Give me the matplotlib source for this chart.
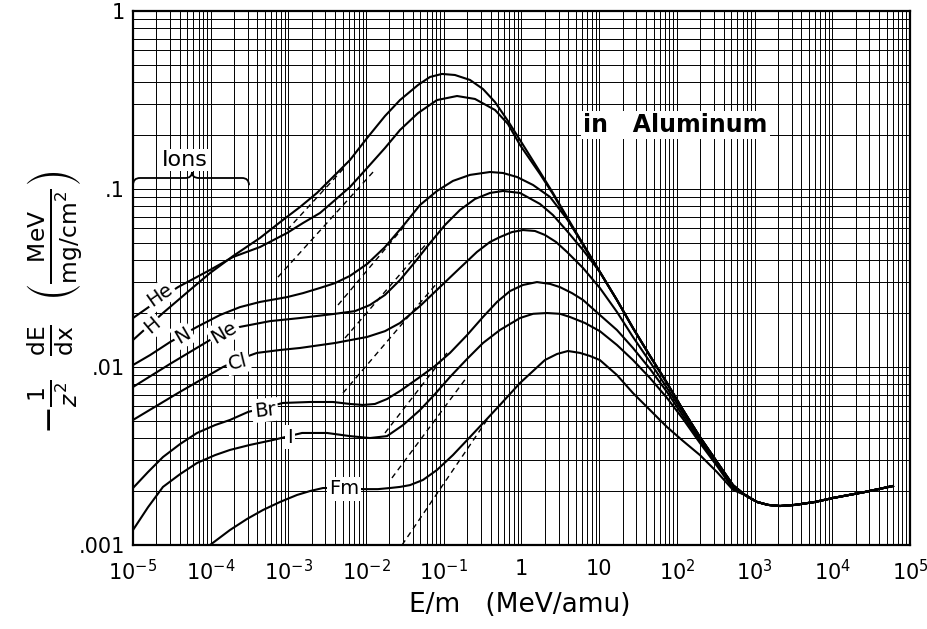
import numpy as np
import matplotlib
matplotlib.use('Agg')
import matplotlib.pyplot as plt
from matplotlib.path import Path
from matplotlib.patches import PathPatch
from matplotlib.ticker import LogLocator, NullFormatter

# curves: E/m (MeV/amu) vs -1/z^2 dE/dx (MeV/(mg/cm^2))
h_e = [1e-5, 2.43e-5, 5.42e-5, 9.8e-5, 1.94e-4, 4.31e-4, 8.5e-4, 1.41e-3, 2.33e-3, 3.75e-3,
       6.2e-3, 1.03e-2, 1.75e-2, 2.73e-2, 4.66e-2, 6.64e-2, 9.48e-2, 0.139, 0.217, 0.3195,
       0.456, 0.670, 0.957, 1.73, 2.54, 3.85, 6.19]
h_s = [0.01418, 0.0201, 0.0271, 0.0337, 0.042, 0.0531, 0.067, 0.0792, 0.095, 0.1168,
       0.1455, 0.1934, 0.257, 0.316, 0.384, 0.426, 0.443, 0.437, 0.41, 0.3645,
       0.308, 0.241, 0.1884, 0.1246, 0.095, 0.0696, 0.0491]

he_e = [1e-5, 2.43e-5, 3.79e-5, 9.8e-5, 1.94e-4, 4.31e-4, 9.6e-4, 1.54e-3, 2.55e-3, 3.98e-3,
        6.2e-3, 1.03e-2, 1.75e-2, 2.73e-2, 4.66e-2, 8.17e-2, 0.148, 0.252, 0.456, 0.67,
        0.957, 1.73, 2.54, 3.85, 6.19]
he_s = [0.01884, 0.0247, 0.0281, 0.0351, 0.0415, 0.0472, 0.0566, 0.0644, 0.0733, 0.0867,
        0.1026, 0.1312, 0.170, 0.2145, 0.267, 0.316, 0.333, 0.3205, 0.278, 0.2318,
        0.1767, 0.1214, 0.0937, 0.0687, 0.0485]

n_e = [1e-5, 1.66e-5, 2.99e-5, 6.67e-5, 1.32e-4, 2.38e-4, 4.31e-4, 9.6e-4, 1.54e-3, 2.55e-3,
       3.98e-3, 6.2e-3, 1.03e-2, 1.75e-2, 2.99e-2, 4.94e-2, 8.17e-2, 0.131, 0.217, 0.393,
       0.578, 0.875, 1.41, 2.33, 3.85, 6.19]
n_s = [0.01026, 0.01167, 0.0138, 0.0168, 0.0196, 0.0217, 0.0232, 0.0247, 0.026, 0.0278,
       0.0296, 0.0325, 0.0379, 0.0472, 0.062, 0.0813, 0.0975, 0.111, 0.12, 0.1246,
       0.123, 0.1168, 0.1053, 0.0902, 0.0678, 0.0491]

ne_e = [1e-5, 2.99e-5, 9.8e-5, 2.38e-4, 5.79e-4, 1.41e-3, 3.98e-3, 7.19e-3, 1.12e-2, 1.75e-2,
        2.73e-2, 4.26e-2, 6.64e-2, 0.1036, 0.1614, 0.252, 0.393, 0.578, 0.957, 1.73,
        2.54, 3.85, 6.19]
ne_s = [0.00772, 0.0104, 0.01418, 0.0168, 0.0181, 0.01884, 0.0199, 0.0206, 0.0223, 0.0254,
        0.0308, 0.0389, 0.0497, 0.0628, 0.0762, 0.0879, 0.095, 0.0975, 0.095, 0.0824,
        0.0714, 0.0581, 0.0454]

# falling branch shared by H, He, N and Ne above 10 MeV/amu
hi_e = [10.2, 16.9, 27.2, 45.1, 74.6, 120, 198, 328, 527]
hi_s = [0.0342, 0.0238, 0.01656, 0.01153, 0.00813, 0.00573, 0.00404, 0.00293, 0.00217]

cl_e = [1e-5, 3.79e-5, 1.44e-4, 2.38e-4, 3.94e-4, 7.8e-4, 1.41e-3, 3.98e-3, 1.03e-2, 1.75e-2,
        2.73e-2, 4.94e-2, 8.9e-2, 0.1614, 0.267, 0.393, 0.528, 0.755, 1.045, 1.49,
        2.0, 2.78, 3.85, 6.19, 10.2, 16.9, 27.2, 45.1, 74.6, 120, 198, 328, 527]
cl_s = [0.00504, 0.00714, 0.01, 0.01109, 0.012, 0.01246, 0.01279, 0.01364, 0.01475, 0.0159,
        0.01767, 0.022, 0.0281, 0.036, 0.0443, 0.0504, 0.0537, 0.0573, 0.0588, 0.0581,
        0.0552, 0.0504, 0.0443, 0.036, 0.0278, 0.0204, 0.01475, 0.01067, 0.00762, 0.00552,
        0.00394, 0.00285, 0.00214]

br_e = [1e-5, 1.56e-5, 2.43e-5, 4.03e-5, 6.67e-5, 1.14e-4, 1.77e-4, 3.02e-4, 8.5e-4, 1.9e-3,
        3.75e-3, 6.2e-3, 9.12e-3, 1.3e-2, 1.86e-2, 2.73e-2, 4.94e-2, 7.71e-2, 0.1202, 0.199,
        0.3195, 0.484, 0.711, 1.045, 1.58, 2.33, 3.13, 4.47, 6.19, 10.2,
        16.9, 27.2, 45.1, 74.6, 120, 198, 328, 527]
br_s = [0.00209, 0.00257, 0.00312, 0.00369, 0.00426, 0.00472, 0.00504, 0.00559, 0.00628, 0.00636,
        0.00636, 0.0062, 0.00612, 0.0062, 0.00661, 0.00733, 0.00879, 0.01014, 0.012, 0.0151,
        0.0191, 0.0232, 0.0267, 0.0289, 0.03, 0.0293, 0.0281, 0.026, 0.0238, 0.0196,
        0.01614, 0.01279, 0.00975, 0.00724, 0.0053, 0.00384, 0.00281, 0.00211]

i_e = [1e-5, 1.56e-5, 2.43e-5, 4.03e-5, 6.67e-5, 1.14e-4, 1.77e-4, 3.2e-4, 6.34e-4, 1.5e-3,
       3.14e-3, 6.2e-3, 1.12e-2, 1.86e-2, 2.99e-2, 4.94e-2, 7.71e-2, 0.1202, 0.199, 0.3195,
       0.528, 0.957, 1.41, 2.13, 3.13, 4.2, 6.56, 10.2, 16.9, 27.2,
       45.1, 74.6, 120, 198, 328, 527]
i_s = [0.001214, 0.00163, 0.00212, 0.0025, 0.00289, 0.0032, 0.00342, 0.00365, 0.00389, 0.00426,
       0.00426, 0.00409, 0.00399, 0.00409, 0.00472, 0.00573, 0.00705, 0.00879, 0.01109, 0.01364,
       0.01614, 0.01884, 0.0199, 0.0201, 0.0199, 0.0191, 0.01767, 0.0159, 0.0133, 0.01094,
       0.00867, 0.0067, 0.0051, 0.00374, 0.00278, 0.00207]

fm_e = [9.8e-5, 1.77e-4, 2.93e-4, 4.71e-4, 7.8e-4, 1.29e-3, 1.9e-3, 2.79e-3, 5.35e-3, 9.12e-3,
        1.422e-2, 2.03e-2, 2.73e-2, 3.67e-2, 5.4e-2, 8.17e-2, 0.131, 0.217, 0.339, 0.528,
        0.957, 1.41, 2.0, 2.86, 3.96, 5.66, 7.62, 10.2, 16.9, 27.2,
        45.1, 74.6, 120, 198, 328, 527]
fm_s = [0.001, 0.001214, 0.0014, 0.001573, 0.001745, 0.00191, 0.00201, 0.00209, 0.00209, 0.00206,
        0.00206, 0.00209, 0.00212, 0.00217, 0.00232, 0.00264, 0.0032, 0.00404, 0.00497, 0.00612,
        0.00813, 0.0095, 0.01094, 0.01183, 0.0123, 0.012, 0.01153, 0.01094, 0.00902, 0.00714,
        0.00573, 0.0046, 0.00384, 0.0032, 0.00257, 0.00204]

# common high-energy tail shared by all ions
tail_e = [751, 1075, 1486, 2120, 3311, 5984, 1.02e4, 2.64e4, 6.04e4]
tail_s = [0.00191, 0.001745, 0.00168, 0.001656, 0.00168, 0.001745, 0.001837, 0.001986, 0.002145]

# dashed low-energy lines, two end points each
dash_e = {'H': [9.6e-4, 5.35e-3], 'He': [7.34e-4, 1.3e-2], 'N': [4.35e-3, 3.36e-2],
          'Ne': [5.35e-3, 6.08e-2], 'Cl': [5.04e-3, 8.17e-2], 'Br': [1.75e-2, 0.11],
          'I': [2.15e-2, 0.199], 'Fm': [2.9e-2, 0.36]}
dash_s = {'H': [0.0588, 0.133], 'He': [0.032, 0.128], 'N': [0.0223, 0.0644],
          'Ne': [0.01455, 0.0497], 'Cl': [0.00714, 0.0296], 'Br': [0.00426, 0.012],
          'I': [0.00238, 0.00879], 'Fm': [0.001, 0.00504]}

# curve labels: position and rotation
label_names = ['He', 'H', 'N', 'Ne', 'Cl', 'Br', 'I', 'Fm']
label_e = [2.23e-5, 1.76e-5, 4.4e-5, 1.48e-4, 2.24e-4, 5.0e-4, 1.05e-3, 5.2e-3]
label_s = [0.0254, 0.0172, 0.0151, 0.0157, 0.01067, 0.00573, 0.00404, 0.00207]
label_rot = [35, 40, 30, 30, 14, 6, 0, 0]

x_ticks = [1e-5, 1e-4, 1e-3, 1e-2, 1e-1, 1, 10, 1e2, 1e3, 1e4, 1e5]
x_labels = [r'$10^{-5}$', r'$10^{-4}$', r'$10^{-3}$', r'$10^{-2}$', r'$10^{-1}$', '1', '10',
            r'$10^{2}$', r'$10^{3}$', r'$10^{4}$', r'$10^{5}$']
y_ticks = [0.001, 0.01, 0.1, 1]
y_labels = ['.001', '.01', '.1', '1']

fig = plt.figure(figsize=(9.28, 6.29), dpi=100)
ax = fig.add_axes([133 / 928, 84 / 629, 777 / 928, 534 / 629])
ax.set_xscale('log')
ax.set_yscale('log')
ax.set_xlim(1e-5, 1e5)
ax.set_ylim(1e-3, 1)

# graph paper: a line at every 1..9 of each decade
for axis in (ax.xaxis, ax.yaxis):
    axis.set_minor_locator(LogLocator(base=10, subs=np.arange(2, 10), numticks=100))
    axis.set_minor_formatter(NullFormatter())
ax.grid(which='both', color='black', lw=0.7)
ax.set_axisbelow(True)
ax.tick_params(which='both', length=0)
ax.set_xticks(x_ticks, x_labels, fontsize=15)
ax.set_yticks(y_ticks, y_labels, fontsize=15)
ax.tick_params(axis='x', pad=10)
ax.tick_params(axis='y', pad=6)
for sp in ax.spines.values():
    sp.set_linewidth(1.6)

curves = [(h_e + hi_e, h_s + hi_s), (he_e + hi_e, he_s + hi_s), (n_e + hi_e, n_s + hi_s),
          (ne_e + hi_e, ne_s + hi_s), (cl_e, cl_s), (br_e, br_s), (i_e, i_s), (fm_e, fm_s)]
for e, s in curves:
    ax.plot(e + tail_e, s + tail_s, color='black', lw=1.5, zorder=3)

for name in dash_e:
    ax.plot(dash_e[name], dash_s[name], color='black', lw=1.0, ls=(0, (4, 3)), zorder=3)

for name, x, y, r in zip(label_names, label_e, label_s, label_rot):
    ax.text(x, y, name, fontsize=14, rotation=r, ha='center', va='center', zorder=5,
            rotation_mode='anchor',
            bbox=dict(boxstyle='square,pad=0.12', fc='white', ec='none'))

# "Ions" brace
brace = Path([(1e-5, 0.105), (1e-5, 0.1153), (1.23e-5, 0.1153), (4.7e-5, 0.1153),
              (5.74e-5, 0.1153), (5.74e-5, 0.1246), (5.74e-5, 0.1153), (7.06e-5, 0.1153),
              (2.53e-4, 0.1153), (3.11e-4, 0.1153), (3.11e-4, 0.105)],
             [Path.MOVETO, Path.CURVE3, Path.CURVE3, Path.LINETO, Path.CURVE3, Path.CURVE3,
              Path.CURVE3, Path.CURVE3, Path.LINETO, Path.CURVE3, Path.CURVE3])
ax.add_patch(PathPatch(brace, fc='none', ec='black', lw=1.3, zorder=5))
ax.text(4.66e-5, 0.1455, 'Ions', fontsize=16, ha='center', va='center', zorder=5,
        bbox=dict(boxstyle='square,pad=0.05', fc='white', ec='none'))

ax.text(6.19, 0.229, 'in   Aluminum', fontsize=17, fontweight='bold', ha='left',
        va='center', zorder=5, bbox=dict(boxstyle='square,pad=0.1', fc='white', ec='none'))

fig.text(520 / 928, 1 - 605 / 629, 'E/m   (MeV/amu)', fontsize=19, ha='center', va='center')
fig.text(55 / 928, 1 - 302 / 629,
         r'$-\frac{1}{z^2}\ \ \frac{\mathrm{dE}}{\mathrm{dx}}\ \ '
         r'\left(\frac{\mathrm{MeV}}{\mathrm{mg/cm^2}}\right)$',
         fontsize=24, rotation=90, ha='center', va='center')

fig.savefig('out.png', dpi=100, facecolor='white')
